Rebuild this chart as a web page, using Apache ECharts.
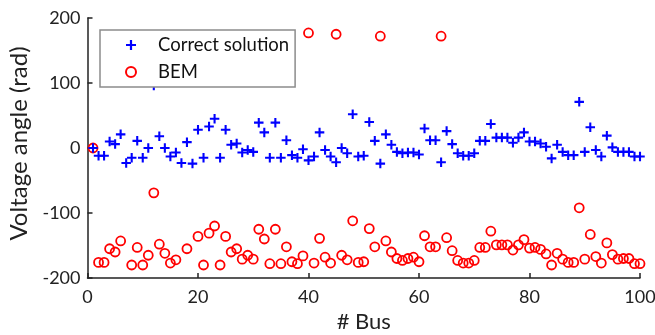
<!DOCTYPE html>
<html><head><meta charset="utf-8">
<script src="https://cdn.jsdelivr.net/npm/echarts@6/dist/echarts.min.js"></script>
<style>html,body{margin:0;padding:0;background:#fff}#c{width:655px;height:335px}</style>
</head><body><div id="c"></div>
<script>
const buses = [1,2,3,4,5,6,7,8,9,10,11,12,13,14,15,16,17,18,19,20,21,22,23,24,25,26,27,28,29,30,31,32,33,34,35,36,37,38,39,40,41,42,43,44,45,46,47,48,49,50,51,52,53,54,55,56,57,58,59,60,61,62,63,64,65,66,67,68,69,70,71,72,73,74,75,76,77,78,79,80,81,82,83,84,85,86,87,88,89,90,91,92,93,94,95,96,97,98,99,100];
const correctSolution = [0,-12,-12,10,6,21,-23,-15,11,-15,0,96,18,0,-13,-7,-23,9,-24,28,-15,33,45,-15,28,5,7,-7,-3,-6,39,24,-15,39,-15,12,-11,-15,-2,-19,-13,24,-3,-13,-22,0,-8,52,-13,-12,40,11,-24,21,5,-6,-8,-7,-7,-10,30,12,12,-22,26,6,-8,-12,-12,-8,11,11,37,16,16,16,8,16,24,10,10,7,2,-16,5,-6,-11,-11,71,-6,32,-3,-13,19,1,-6,-6,-6,-13,-13];
const bemValues = [0,-176,-176,-155,-160,-143,null,-180,-153,-180,-165,-69,-148,-162,-177,-172,null,-155,null,-136,-180,-131,-120,-180,-136,-160,-155,-171,-165,-171,-125,-140,-178,-125,-178,-152,-175,-178,-166,177,-177,-139,-168,-177,175,-165,-172,-112,-176,-175,-124,-152,172,-143,-160,-170,-173,-170,-168,-175,-135,-152,-152,172,-138,-158,-173,-177,-177,-173,-153,-153,-128,-149,-149,-149,-157,-149,-141,-154,-153,-156,-163,-180,-162,-171,-176,-176,-92,-171,-133,-167,-177,-146,-164,-171,-170,-170,-178,-178];
const xTicks = [0,20,40,60,80,100];
const yTicks = [-200,-100,0,100,200];

const plusPath = 'path://M3.9,0H6.1V10H3.9Z M0,3.9H10V6.1H0Z';
const font = 'Lato';
const chart = echarts.init(document.getElementById('c'));
const pairs = (vals) => buses.map((b,i) => vals[i] === null ? null : [b, vals[i]]).filter(p => p);

chart.setOption({
  animation: false,
  backgroundColor: '#fff',
  grid: {left: 87.5, right: 15, top: 18, bottom: 57, containLabel: false, outerBoundsMode: 'none'},
  xAxis: {
    type: 'value', min: xTicks[0], max: xTicks[xTicks.length-1], interval: 20,
    name: '# Bus', nameLocation: 'middle', nameGap: 33,
    nameTextStyle: {fontFamily: font, fontSize: 22, color: '#222'},
    axisLine: {show: true, onZero: false, lineStyle: {color: '#222', width: 1.5}},
    axisTick: {show: true, inside: true, length: 5, lineStyle: {color: '#222', width: 1.5}},
    axisLabel: {fontFamily: font, fontSize: 18, color: '#222', margin: 10},
    splitLine: {show: false}
  },
  yAxis: {
    type: 'value', min: yTicks[0], max: yTicks[yTicks.length-1], interval: 100,
    name: 'Voltage angle (rad)', nameLocation: 'middle', nameGap: 54,
    nameTextStyle: {fontFamily: font, fontSize: 24, color: '#222', padding: [0,0,0,9]},
    axisLine: {show: true, lineStyle: {color: '#222', width: 1.5}},
    axisTick: {show: true, inside: true, length: 5, lineStyle: {color: '#222', width: 1.5}},
    axisLabel: {fontFamily: font, fontSize: 18, color: '#222', margin: 7},
    splitLine: {show: false}
  },
  legend: {
    orient: 'vertical', left: 100, top: 30, z: 10,
    padding: [4.5, 6, 4.5, 25], itemWidth: 44, itemHeight: 10, itemGap: 6,
    borderColor: '#8c8c8c', borderWidth: 1.5, backgroundColor: '#fff',
    symbolKeepAspect: true,
    textStyle: {fontFamily: font, fontSize: 18.5, color: '#111', lineHeight: 21},
    data: [{name: 'Correct solution', icon: plusPath}, {name: 'BEM', icon: 'circle'}]
  },
  series: [
    {
      name: 'Correct solution', type: 'scatter', symbol: plusPath, symbolSize: 9.5,
      itemStyle: {color: '#0000ff', opacity: 1},
      data: pairs(correctSolution), z: 3
    },
    {
      name: 'BEM', type: 'scatter', symbol: 'circle', symbolSize: 9,
      itemStyle: {color: 'rgba(255,255,255,0)', borderColor: '#ff0000', borderWidth: 1.8, opacity: 1},
      data: pairs(bemValues), z: 2
    }
  ]
});
</script></body></html>
